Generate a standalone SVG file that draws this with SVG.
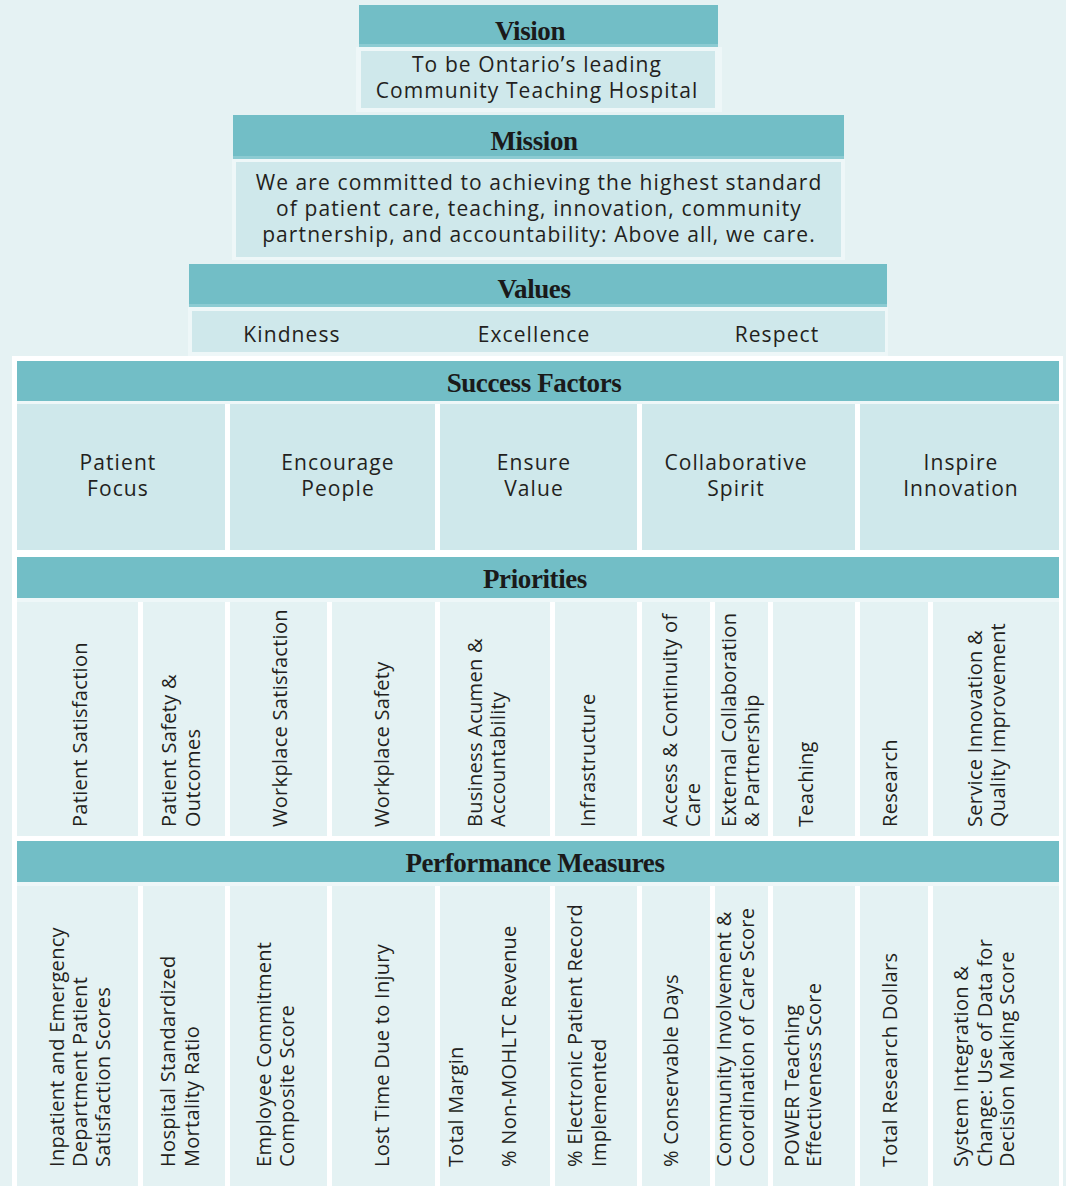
<svg xmlns="http://www.w3.org/2000/svg" width="1066" height="1186" viewBox="0 0 1066 1186">
<style>
.hd{fill:#72bec6}
.hl{fill:#8ccbd2}
.bd{fill:#cfe8eb}
.lt{fill:#e4f2f3}
.halo{fill:#eef7f8}
.ht{font-family:"Liberation Serif","Times New Roman",serif;font-weight:bold;font-size:27px;letter-spacing:-0.4px;fill:#1a1a1a;text-anchor:middle}
.t{font-family:"Open Sans","Noto Sans",sans-serif;font-size:21px;letter-spacing:1.1px;fill:#231f20;text-anchor:middle}
.v{font-family:"Open Sans","Noto Sans",sans-serif;font-size:20px;letter-spacing:0.3px;fill:#231f20}
</style>
<rect width="1066" height="1186" fill="#e5f2f3"/>

<g id="vision">
<rect class="halo" x="356" y="47" width="366" height="65"/>
<rect class="hd" x="359" y="5" width="359" height="42"/>
<rect class="hl" x="359" y="44" width="359" height="3"/>
<rect class="bd" x="361" y="51" width="354" height="57"/>
<text class="ht" x="530" y="40">Vision</text>
<text class="t" x="537" y="72">To be Ontario’s leading</text>
<text class="t" x="537" y="98">Community Teaching Hospital</text>
</g>

<g id="mission">
<rect class="halo" x="232" y="159" width="613" height="101"/>
<rect class="hd" x="233" y="115" width="611" height="44"/>
<rect class="hl" x="233" y="156" width="611" height="3"/>
<rect class="bd" x="236" y="162" width="605" height="95"/>
<text class="ht" x="534" y="150">Mission</text>
<text class="t" x="539" y="190">We are committed to achieving the highest standard</text>
<text class="t" x="539" y="216">of patient care, teaching, innovation, community</text>
<text class="t" x="539" y="242">partnership, and accountability: Above all, we care.</text>
</g>

<g id="values">
<rect class="halo" x="188" y="307" width="700" height="49"/>
<rect class="hd" x="189" y="264" width="698" height="43"/>
<rect class="hl" x="189" y="304" width="698" height="3"/>
<rect class="bd" x="192" y="311" width="693" height="41"/>
<text class="ht" x="534" y="298">Values</text>
<text class="t" x="292" y="342">Kindness</text>
<text class="t" x="534" y="342">Excellence</text>
<text class="t" x="777" y="342">Respect</text>
</g>

<rect x="12" y="356" width="1051" height="830" fill="#ffffff"/>
<rect x="17" y="401" width="1042" height="3" fill="#eef7f8"/>
<rect x="17" y="598" width="1042" height="4" fill="#eef7f8"/>
<rect x="17" y="882" width="1042" height="4" fill="#eef7f8"/>

<g id="success-factors">
<rect class="hd" x="17" y="361" width="1042" height="40"/>
<text class="ht" x="534" y="392">Success Factors</text>
<rect class="bd" x="17" y="404" width="208" height="146"/>
<rect class="bd" x="230" y="404" width="205" height="146"/>
<rect class="bd" x="440" y="404" width="197" height="146"/>
<rect class="bd" x="642" y="404" width="213" height="146"/>
<rect class="bd" x="860" y="404" width="199" height="146"/>
<text class="t" x="118" y="470">Patient</text><text class="t" x="118" y="496">Focus</text>
<text class="t" x="338" y="470">Encourage</text><text class="t" x="338" y="496">People</text>
<text class="t" x="534" y="470">Ensure</text><text class="t" x="534" y="496">Value</text>
<text class="t" x="736" y="470">Collaborative</text><text class="t" x="736" y="496">Spirit</text>
<text class="t" x="961" y="470">Inspire</text><text class="t" x="961" y="496">Innovation</text>
</g>

<g id="priorities">
<rect class="hd" x="17" y="557" width="1042" height="41"/>
<text class="ht" x="535" y="588">Priorities</text>
<rect class="lt" x="17" y="602" width="121" height="234"/>
<rect class="lt" x="143" y="602" width="82" height="234"/>
<rect class="lt" x="230" y="602" width="97" height="234"/>
<rect class="lt" x="332" y="602" width="103" height="234"/>
<rect class="lt" x="440" y="602" width="110" height="234"/>
<rect class="lt" x="555" y="602" width="82" height="234"/>
<rect class="lt" x="642" y="602" width="68" height="234"/>
<rect class="lt" x="715" y="602" width="53" height="234"/>
<rect class="lt" x="773" y="602" width="82" height="234"/>
<rect class="lt" x="860" y="602" width="68" height="234"/>
<rect class="lt" x="933" y="602" width="126" height="234"/>
<text class="v" transform="translate(87,827) rotate(-90)">Patient Satisfaction</text>
<text class="v" transform="translate(176,827) rotate(-90)"><tspan x="0" y="0">Patient Safety &amp;</tspan><tspan x="0" y="24">Outcomes</tspan></text>
<text class="v" transform="translate(287,827) rotate(-90)">Workplace Satisfaction</text>
<text class="v" transform="translate(389,827) rotate(-90)">Workplace Safety</text>
<text class="v" transform="translate(482,827) rotate(-90)"><tspan x="0" y="0">Business Acumen &amp;</tspan><tspan x="0" y="22.5">Accountability</tspan></text>
<text class="v" transform="translate(595,827) rotate(-90)">Infrastructure</text>
<text class="v" transform="translate(677,827) rotate(-90)"><tspan x="0" y="0">Access &amp; Continuity of</tspan><tspan x="0" y="22.5">Care</tspan></text>
<text class="v" transform="translate(736,827) rotate(-90)"><tspan x="0" y="0">External Collaboration</tspan><tspan x="0" y="23">&amp; Partnership</tspan></text>
<text class="v" transform="translate(813,827) rotate(-90)">Teaching</text>
<text class="v" transform="translate(897,827) rotate(-90)">Research</text>
<text class="v" transform="translate(982,827) rotate(-90)"><tspan x="0" y="0">Service Innovation &amp;</tspan><tspan x="0" y="23">Quality Improvement</tspan></text>
</g>

<g id="performance-measures">
<rect class="hd" x="17" y="841" width="1042" height="41"/>
<text class="ht" x="535" y="872">Performance Measures</text>
<rect class="lt" x="17" y="886" width="121" height="300"/>
<rect class="lt" x="143" y="886" width="82" height="300"/>
<rect class="lt" x="230" y="886" width="97" height="300"/>
<rect class="lt" x="332" y="886" width="103" height="300"/>
<rect class="lt" x="440" y="886" width="110" height="300"/>
<rect class="lt" x="555" y="886" width="82" height="300"/>
<rect class="lt" x="642" y="886" width="68" height="300"/>
<rect class="lt" x="715" y="886" width="53" height="300"/>
<rect class="lt" x="773" y="886" width="82" height="300"/>
<rect class="lt" x="860" y="886" width="68" height="300"/>
<rect class="lt" x="933" y="886" width="126" height="300"/>
<text class="v" transform="translate(64,1167) rotate(-90)"><tspan x="0" y="0">Inpatient and Emergency</tspan><tspan x="0" y="23">Department Patient</tspan><tspan x="0" y="46">Satisfaction Scores</tspan></text>
<text class="v" transform="translate(175,1167) rotate(-90)"><tspan x="0" y="0">Hospital Standardized</tspan><tspan x="0" y="24">Mortality Ratio</tspan></text>
<text class="v" transform="translate(271,1167) rotate(-90)"><tspan x="0" y="0">Employee Commitment</tspan><tspan x="0" y="23">Composite Score</tspan></text>
<text class="v" transform="translate(389,1167) rotate(-90)">Lost Time Due to Injury</text>
<text class="v" transform="translate(463,1167) rotate(-90)">Total Margin</text>
<text class="v" transform="translate(516,1167) rotate(-90)">% Non-MOHLTC Revenue</text>
<text class="v" transform="translate(582,1167) rotate(-90)"><tspan x="0" y="0">% Electronic Patient Record</tspan><tspan x="0" y="23.5">Implemented</tspan></text>
<text class="v" transform="translate(678,1167) rotate(-90)">% Conservable Days</text>
<text class="v" transform="translate(731,1167) rotate(-90)"><tspan x="0" y="0">Community Involvement &amp;</tspan><tspan x="0" y="23">Coordination of Care Score</tspan></text>
<text class="v" transform="translate(799,1167) rotate(-90)"><tspan x="0" y="0">POWER Teaching</tspan><tspan x="0" y="22">Effectiveness Score</tspan></text>
<text class="v" transform="translate(897,1167) rotate(-90)">Total Research Dollars</text>
<text class="v" transform="translate(968,1167) rotate(-90)"><tspan x="0" y="0">System Integration &amp;</tspan><tspan x="0" y="23.5">Change: Use of Data for</tspan><tspan x="0" y="46">Decision Making Score</tspan></text>
</g>
</svg>
